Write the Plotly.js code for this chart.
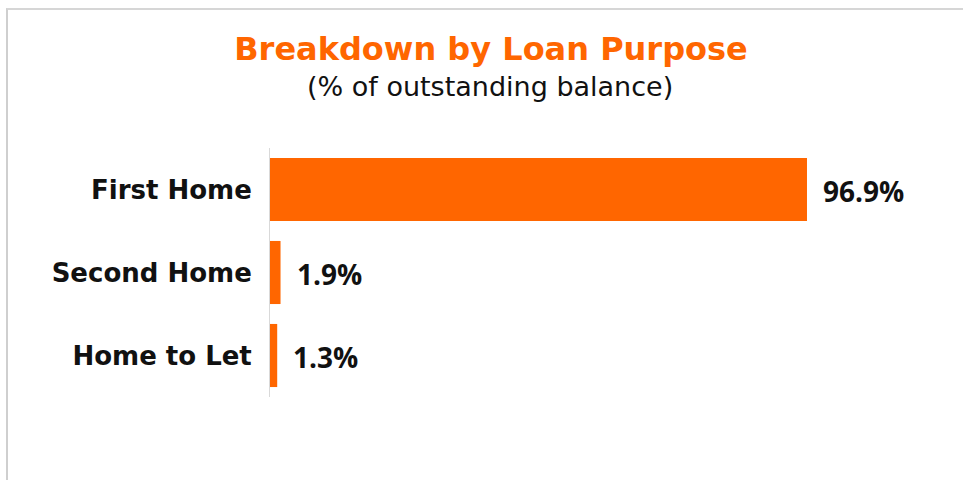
<!DOCTYPE html>
<html>
<head>
<meta charset="utf-8">
<script src="https://cdn.plot.ly/plotly-3.0.1.min.js"></script>
<style>
  html, body { margin: 0; padding: 0; background: #fff; }
  #wrap { position: relative; width: 963px; height: 480px; overflow: hidden; }
  #frame { position: absolute; left: 6px; top: 8px; width: 1000px; height: 500px;
           border-left: 2px solid #cfcfcf; border-top: 2px solid #d6d6d6; box-sizing: border-box; pointer-events: none; }
  #chart { position: absolute; left: 0; top: 0; width: 963px; height: 480px; }
</style>
</head>
<body>
<div id="wrap">
  <div id="chart"></div>
  <div id="frame"></div>
</div>
<script>
const categories = ["First Home", "Second Home", "Home to Let"];
const values = [96.9, 1.9, 1.3];
const valueLabels = ["96.9%", "1.9%", "1.3%"];
const titleText = "Breakdown by Loan Purpose";
const subtitleText = "(% of outstanding balance)";

const orange = "#FF6600";
const W = 963, H = 480;
const M = { l: 270, r: 28, t: 148, b: 83 };
const plotW = W - M.l - M.r, plotH = H - M.t - M.b;

const trace = {
  type: "bar",
  orientation: "h",
  y: categories,
  x: values,
  width: 0.76,
  marker: { color: orange, line: { width: 0 } },
  hoverinfo: "skip"
};

const annotations = values.map((v, i) => ({
  x: v, y: categories[i], xref: "x", yref: "y",
  text: "<b>" + valueLabels[i] + "</b>",
  showarrow: false, xanchor: "left", yanchor: "middle", xshift: 14, yshift: -1,
  font: { family: "Open Sans, sans-serif", size: 28, color: "#111" }
}));

annotations.push({
  text: subtitleText, xref: "paper", yref: "paper",
  x: (490 - M.l) / plotW, y: (H - M.b - 86) / plotH,
  xanchor: "center", yanchor: "middle", showarrow: false,
  font: { family: "DejaVu Sans, sans-serif", size: 27, color: "#111" }
});

const layout = {
  width: W, height: H,
  margin: M,
  paper_bgcolor: "rgba(0,0,0,0)",
  plot_bgcolor: "rgba(0,0,0,0)",
  showlegend: false,
  title: {
    text: "<b>" + titleText + "</b>",
    x: 491 / W, xref: "container", xanchor: "center",
    y: 1 - 49 / H, yref: "container", yanchor: "middle",
    font: { family: "DejaVu Sans, sans-serif", size: 32, color: orange }
  },
  xaxis: {
    range: [0, 120], showgrid: false, zeroline: false, showline: false,
    showticklabels: false, ticks: "", fixedrange: true
  },
  yaxis: {
    autorange: "reversed", showgrid: false, zeroline: false,
    showline: true, linecolor: "#d9d9d9", linewidth: 1,
    ticks: "", ticklabelstandoff: 12,
    tickfont: { family: "DejaVu Sans, sans-serif", size: 26, color: "#111", weight: "bold" },
    fixedrange: true
  },
  annotations: annotations
};

Plotly.newPlot("chart", [trace], layout, { displayModeBar: false, staticPlot: true });
</script>
</body>
</html>
